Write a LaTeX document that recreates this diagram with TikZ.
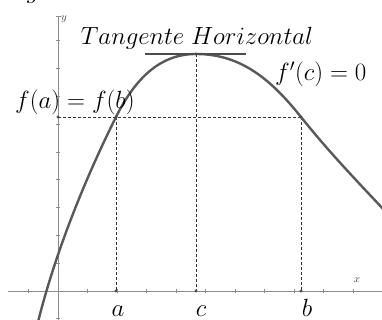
\documentclass[tikz,border=0pt]{standalone}
\usepackage{tikz}
\begin{document}
\begin{tikzpicture}[x=1pt,y=-1pt,
  axis/.style={draw=gray!90,line width=0.9pt},
  tickmark/.style={draw=gray!90,line width=0.7pt},
  curve/.style={draw=black!65,line width=2.4pt},
  guide/.style={draw=black!80,dashed,dash pattern=on 3pt off 2pt,line width=0.9pt},
  tangent/.style={draw=black!70,line width=1.4pt},
  dotmark/.style={circle,fill=black!70,inner sep=0pt,minimum size=3.2pt},
  biglabel/.style={font=\fontsize{23.5}{28}\selectfont,inner sep=0pt},
  smalllabel/.style={font=\fontsize{11}{13}\selectfont,text=black!75,inner sep=0pt}]
\useasboundingbox (0,0) rectangle (382,320);
% fragment of text cut by the top edge
\node[biglabel,anchor=base] (frag) at (33,-1) {$g$};
% axes
\coordinate (xl) at (8,291);
\coordinate (xr) at (382,291);
\coordinate (yt) at (58,16);
\coordinate (yb) at (58,320);
\draw[axis] (xl) -- (xr);
\draw[axis] (yb) -- (yt);
\foreach \i in {-1,1,2,...,11} {\draw[tickmark] (58+29.5*\i,289) -- (58+29.5*\i,293);}
\foreach \j in {-1,1,2,...,9} {\draw[tickmark] (56,291-27.8*\j) -- (60,291-27.8*\j);}
\draw[tickmark] (55.5,16) -- (60.5,16);
\node[smalllabel,anchor=base] (ylab) at (64,21) {$y$};
\node[smalllabel,anchor=base] (xlab) at (357,282) {$x$};
% key points
\coordinate (A) at (116,117);
\coordinate (B) at (301,117);
\coordinate (C) at (196,54);
\coordinate (Ax) at (116,291);
\coordinate (Bx) at (301,291);
\coordinate (Cx) at (196,291);
\coordinate (Fy) at (58,117);
\coordinate (T1) at (145,54);
\coordinate (T2) at (246,54);
\coordinate (P0) at (38,322);
\coordinate (P9) at (384,210);
% dashed guides
\draw[guide] (Fy) -- (B);
\draw[guide] (A) -- (Ax);
\draw[guide] (C) -- (Cx);
\draw[guide] (B) -- (Bx);
% curve
\draw[curve,line join=round] (P0) .. controls (57,246) and (89,171) .. (A)
  .. controls (136,77) and (161,54) .. (C)
  .. controls (241,54) and (271,79.5) .. (B)
  .. controls (331,154.5) and (358,182) .. (P9);
% tangent
\draw[tangent] (T1) -- (T2);
% dots
\foreach \p in {A,B,C,Ax,Bx,Cx,Fy} {\node[dotmark] at (\p) {};}
% labels
\node[biglabel,anchor=base] (tan) at (197,45) {$Tangente\;Horizontal$};
\node[biglabel,anchor=base west] (fab) at (15,109) {$f(a)=f(b)$};
\node[biglabel,anchor=base west] (fpc) at (275,81) {$f'(c)=0$};
\node[biglabel,anchor=base] (la) at (118,316) {$a$};
\node[biglabel,anchor=base] (lc) at (201,316) {$c$};
\node[biglabel,anchor=base] (lb) at (307,316) {$b$};
\end{tikzpicture}
\end{document}
